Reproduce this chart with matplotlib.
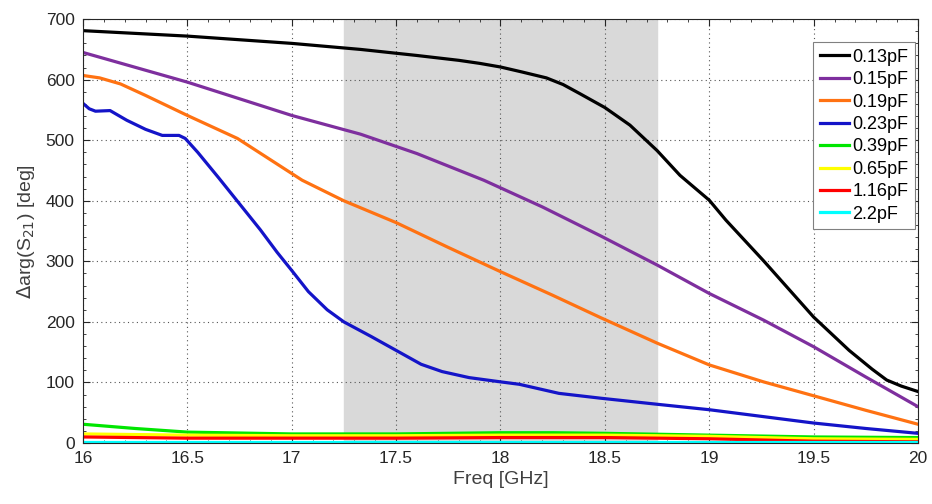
import numpy as np
import matplotlib.pyplot as plt
from matplotlib.ticker import AutoMinorLocator

plt.rcParams['font.family'] = ['Liberation Sans', 'DejaVu Sans']

# values (freq in GHz, delta arg(S21) in deg)
f_013 = [16, 16.5, 17, 17.33, 17.6, 17.8, 17.9, 18, 18.1, 18.22, 18.3, 18.38, 18.5, 18.62, 18.75,
         18.86, 19, 19.08, 19.26, 19.5, 19.67, 19.78, 19.85, 19.92, 20]
y_013 = [681, 672, 660, 650, 640, 632, 627, 621, 613, 603, 592, 577, 554, 525, 483,
         442, 401, 368, 301, 208, 153, 122, 104, 94, 85]

f_015 = [16, 16.5, 17, 17.33, 17.6, 17.92, 18.2, 18.48, 18.75, 19, 19.26, 19.5, 19.75, 20]
y_015 = [645, 596, 541, 510, 478, 434, 390, 342, 294, 247, 203, 159, 109, 60]

f_019 = [16, 16.08, 16.18, 16.3, 16.5, 16.74, 17.05, 17.25, 17.5, 17.75, 18, 18.25, 18.48, 18.75,
         19, 19.26, 19.5, 19.75, 20]
y_019 = [607, 603, 593, 574, 541, 503, 434, 400, 364, 323, 283, 244, 207, 165,
         129, 101, 78, 54, 31]

f_023 = [16, 16.03, 16.06, 16.13, 16.21, 16.3, 16.38, 16.46, 16.49, 16.55, 16.65, 16.75,
         16.85, 16.93, 17, 17.08, 17.17, 17.25, 17.38, 17.5, 17.62, 17.72, 17.85, 18,
         18.09, 18.28, 18.48, 18.75, 19, 19.25, 19.5, 19.75, 20]
y_023 = [561, 552, 548, 549, 533, 518, 508, 508, 503, 480, 438, 395,
         352, 315, 285, 250, 220, 200, 176, 153, 130, 118, 108, 101,
         97, 82, 74, 64, 55, 44, 33, 24, 16]

f_low = [16, 16.25, 16.5, 17, 17.5, 18, 18.25, 18.5, 19, 19.5, 20]
y_039 = [31, 24, 18, 15, 15, 17, 17, 16, 13, 10, 9]
y_065 = [15, 14, 13, 12, 12, 13, 13, 13, 11, 7, 6]
y_116 = [10, 9, 8, 8, 8, 9, 9, 9, 7, 3, 2]
y_22 = [2, 2, 2, 2, 2, 2, 2, 2, 2, 2, 2]

series = [
    ("0.13pF", f_013, y_013, "black"),
    ("0.15pF", f_015, y_015, "#7e2f9e"),
    ("0.19pF", f_019, y_019, "#ff7212"),
    ("0.23pF", f_023, y_023, "#1414c8"),
    ("0.39pF", f_low, y_039, "#00e600"),
    ("0.65pF", f_low, y_065, "#ffff00"),
    ("1.16pF", f_low, y_116, "#ff0000"),
    ("2.2pF", f_low, y_22, "#00ffff"),
]

fig = plt.figure(figsize=(9.32, 5.04), dpi=100)
ax = fig.add_axes([0.089, 0.121, 0.896, 0.841])

ax.axvspan(17.25, 18.75, color="#d9d9d9", zorder=0)

for name, f, y, c in series:
    ax.plot(f, y, color=c, lw=2.3, label=name, solid_joinstyle="round")

ax.set_xlim(16, 20)
ax.set_ylim(0, 700)
ax.set_xticks([16, 16.5, 17, 17.5, 18, 18.5, 19, 19.5, 20])
ax.set_xticklabels(["16", "16.5", "17", "17.5", "18", "18.5", "19", "19.5", "20"])
ax.set_yticks(range(0, 701, 100))
ax.xaxis.set_minor_locator(AutoMinorLocator(5))
ax.yaxis.set_minor_locator(AutoMinorLocator(5))
ax.tick_params(which="both", direction="in", top=True, right=True, labelsize=12.5,
               colors="#262626", pad=6)
ax.tick_params(which="major", length=5)
ax.tick_params(which="minor", length=2.5)
ax.grid(True, which="major", linestyle=(0, (1, 3)), color="#555555", lw=0.8)
for s in ax.spines.values():
    s.set_color("#262626")

ax.set_xlabel("Freq [GHz]", fontsize=14, color="#404040", labelpad=3)
ax.set_ylabel(r"$\Delta$arg(S$_{21}$) [deg]", fontsize=14, color="#404040", labelpad=6)

leg = ax.legend(loc="upper right", bbox_to_anchor=(0.996, 0.945), fontsize=13,
                fancybox=False, framealpha=1, edgecolor="#808080",
                handlelength=1.6, handletextpad=0.2, labelspacing=0.3, borderpad=0.35,
                borderaxespad=0)
leg.get_frame().set_linewidth(0.8)

fig.savefig("out.png", dpi=100)
